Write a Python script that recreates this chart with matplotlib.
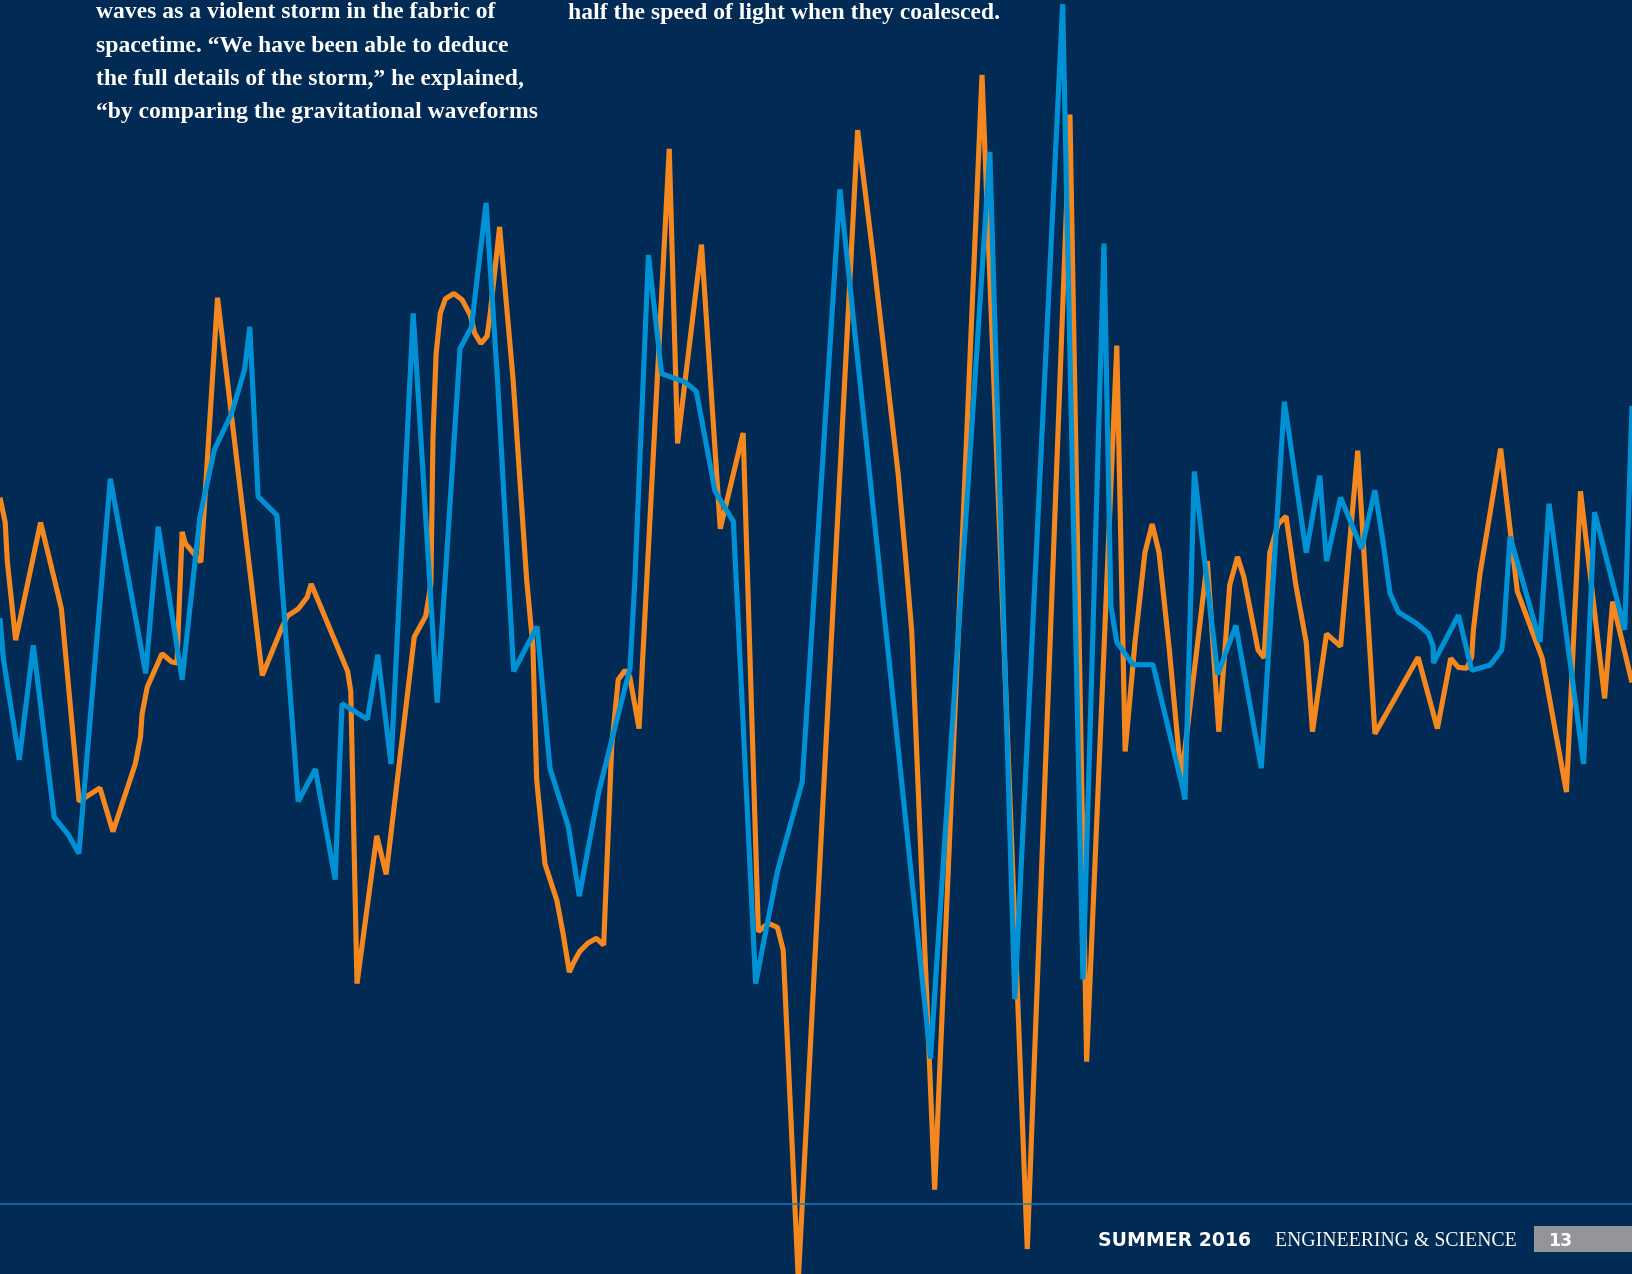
import matplotlib
matplotlib.use("Agg")
import matplotlib.pyplot as plt
from matplotlib.patches import Rectangle
from matplotlib.lines import Line2D

# ---- data: time (ms) and strain (arbitrary units) ----
orange_t = [0, 0.5, 0.7, 1.5, 3.9, 5.6, 5.9, 7.6, 9.6, 10.85, 13.0, 13.5, 13.65, 14.15,
            15.57, 16.5, 17.0, 17.5, 17.8, 19.3, 20.9, 25.2, 27.0, 27.6, 28.65, 29.5, 29.9,
            33.4, 33.7, 34.3, 36.2, 37.1, 39.8, 40.9, 41.4, 41.6, 41.9, 42.3, 42.8, 43.6,
            44.4, 45.2, 45.6, 46.2, 46.8, 47.1, 48.0, 49.3, 50.6, 51.2, 51.56, 52.36, 53.5,
            54.1, 54.7, 55.1, 55.7, 56.5, 57.3, 58.0, 58.77, 59.4, 60.05, 60.5, 61.4, 64.3,
            65.1, 67.4, 69.2, 71.4, 72.86, 73.8, 74.7, 75.25, 76.7, 82.4, 83.9, 86.3, 87.0,
            87.6, 89.8, 94.35, 98.7, 102.8, 104.4, 107.3, 108.1, 109.05, 110.0, 110.7, 111.36,
            112.35, 113.5, 116.0, 117.1, 118.15, 118.9, 119.5, 120.87, 121.45, 122.0, 122.8,
            123.56, 124.5, 125.5, 126.1, 127.45, 128.8, 130.45, 132.1, 136.25, 138.1, 139.38,
            140.12, 140.92, 141.4, 141.56, 142.2, 143.16, 144.18, 145.78, 148.17, 150.5,
            151.85, 154.17, 154.94, 156.8]
orange_h = [1.22, 0.98, 0.61, -0.15, 0.98, 0.28, 0.15, -1.70, -1.57, -1.99, -1.34, -1.08,
            -0.86, -0.60, -0.28, -0.36, -0.37, 0.89, 0.78, 0.60, 3.14, -0.49, -0.05, 0.08,
            0.15, 0.26, 0.39, -0.45, -0.64, -3.45, -2.03, -2.40, -0.12, 0.08, 0.39, 1.80,
            2.60, 2.99, 3.13, 3.18, 3.12, 2.97, 2.80, 2.70, 2.77, 2.99, 3.82, 2.35, 0.43,
            -0.21, -1.49, -2.30, -2.65, -2.97, -3.34, -3.25, -3.14, -3.06, -3.015, -3.08,
            -1.17, -0.53, -0.44, -0.50, -1.00, 4.57, 1.74, 3.65, 0.92, 1.84, -2.95, -2.87,
            -2.91, -3.13, -6.30, 4.75, 3.53, 1.44, 0.65, -0.07, -5.43, 5.28, -6.00, 4.90,
            -4.20, 2.68, -1.22, -0.17, 0.69, 0.965, 0.69, -0.245, -1.49, 0.61, -1.03, 0.38,
            0.65, 0.46, -0.245, -0.32, 0.69, 0.965, 1.04, 0.38, -0.17, -1.03, -0.09, -0.21,
            1.67, -1.05, -0.315, -1.00, -0.325, -0.412, -0.421, -0.31, -0.053, 0.492, 1.068,
            1.69, 0.32, -0.323, -1.61, 1.28, -0.71, 0.22, -0.557]

blue_t = [0, 0.34, 1.85, 3.2, 5.2, 6.57, 7.58, 10.6, 14.0, 15.2, 17.5, 19.2, 20.6, 22.26,
          23.5, 24.0, 24.8, 26.6, 28.65, 30.3, 32.2, 32.86, 35.3, 36.3, 37.57, 39.7, 42.0,
          44.2, 45.3, 46.7, 47.8, 49.35, 51.6, 52.84, 54.6, 55.66, 57.5, 59.25, 60.53, 61.0,
          62.3, 63.57, 65.8, 66.9, 68.7, 70.46, 72.6, 74.7, 77.08, 80.7, 89.4, 95.1, 97.5,
          102.1, 104.05, 106.07, 106.73, 107.3, 108.86, 110.78, 113.7, 113.85, 114.75, 117.0,
          118.74, 121.18, 123.4, 125.5, 126.8, 127.45, 128.8, 130.83, 132.1, 132.9, 133.55,
          134.35, 136.1, 137.23, 137.7, 137.72, 140.12, 141.4, 143.16, 144.28, 144.44,
          145.08, 147.96, 148.83, 152.15, 153.2, 156.1, 156.8]
blue_h = [0.06, -0.34, -1.30, -0.20, -1.85, -2.02, -2.20, 1.40, -0.47, 0.94, -0.53, 1.03,
          1.68, 2.03, 2.45, 2.86, 1.23, 1.05, -1.70, -1.39, -2.45, -0.76, -0.91, -0.29,
          -1.34, 2.99, -0.75, 2.65, 2.86, 4.05, 2.35, -0.45, -0.02, -1.38, -1.94, -2.61,
          -1.62, -0.92, -0.42, 0.43, 3.55, 2.41, 2.33, 2.24, 1.28, 0.99, -3.45, -2.37,
          -1.51, 4.18, -4.17, 4.54, -3.60, 5.96, -3.41, 3.66, 0.18, -0.17, -0.386, -0.386,
          -1.60, -1.68, 1.47, -0.48, -0.01, -1.38, 2.14, 0.69, 1.43, 0.61, 1.22, 0.73,
          1.29, 0.78, 0.30, 0.12, 0.01, -0.085, -0.21, -0.37, 0.09, -0.44, -0.39, -0.245,
          -0.117, 0.844, -0.167, 1.16, -1.34, 1.08, -0.05, 2.10]

top_lines_left = ["waves as a violent storm in the fabric of",
                  "spacetime. \u201cWe have been able to deduce",
                  "the full details of the storm,\u201d he explained,",
                  "\u201cby comparing the gravitational waveforms"]
top_lines_right = ["half the speed of light when they coalesced."]
footer_season = "SUMMER 2016"
footer_mag = "ENGINEERING & SCIENCE"
page_number = "13"

BG = "#012a54"
ORANGE = "#f5871f"
BLUE = "#0091d4"

W, H = 1632, 1274
fig = plt.figure(figsize=(W / 100, H / 100), dpi=100, facecolor=BG)
ax = fig.add_axes([0, 0, 1, 1])
ax.set_facecolor(BG)
ax.set_xlim(0, 156.8)
ax.set_ylim(-6.24, 6.0)
ax.axis("off")

lw = 3.7
ax.plot(orange_t, orange_h, color=ORANGE, lw=lw, solid_joinstyle="bevel",
        solid_capstyle="butt", zorder=3)
ax.plot(blue_t, blue_h, color=BLUE, lw=lw, solid_joinstyle="bevel",
        solid_capstyle="butt", zorder=4)

# footer rule
fig.add_artist(Line2D([0, 1], [1 - 1204 / H, 1 - 1204 / H], color="#1b78b0",
                      lw=1.1, transform=fig.transFigure, zorder=5))

# top body text
serif = ["Liberation Serif", "DejaVu Serif"]
for i, s in enumerate(top_lines_left):
    fig.text(96 / W, 1 - (18.5 + 33.2 * i) / H, s, color="white", fontsize=17,
             family=serif, weight="bold", ha="left", va="baseline", zorder=6)
for i, s in enumerate(top_lines_right):
    fig.text(568 / W, 1 - (18.5 + 33.2 * i) / H, s, color="white", fontsize=17,
             family=serif, weight="bold", ha="left", va="baseline", zorder=6)

# footer text
fig.text(1098 / W, 1 - 1246 / H, footer_season, color="white", fontsize=13.6,
         family=["DejaVu Sans"], weight="bold", ha="left", va="baseline", zorder=6)
fig.text(1275 / W, 1 - 1246 / H, footer_mag, color="white", fontsize=14.2,
         family=serif, ha="left", va="baseline", zorder=6)
fig.add_artist(Rectangle((1534 / W, 1 - 1252 / H), (W - 1534) / W, 26 / H,
                         transform=fig.transFigure, facecolor="#939598",
                         edgecolor="none", zorder=5))
fig.text(1548 / W, 1 - 1246 / H, page_number, color="white", fontsize=12.5,
         family=["DejaVu Sans"], weight="bold", ha="left", va="baseline", zorder=6)

fig.savefig("out.png", dpi=100, facecolor=BG)
